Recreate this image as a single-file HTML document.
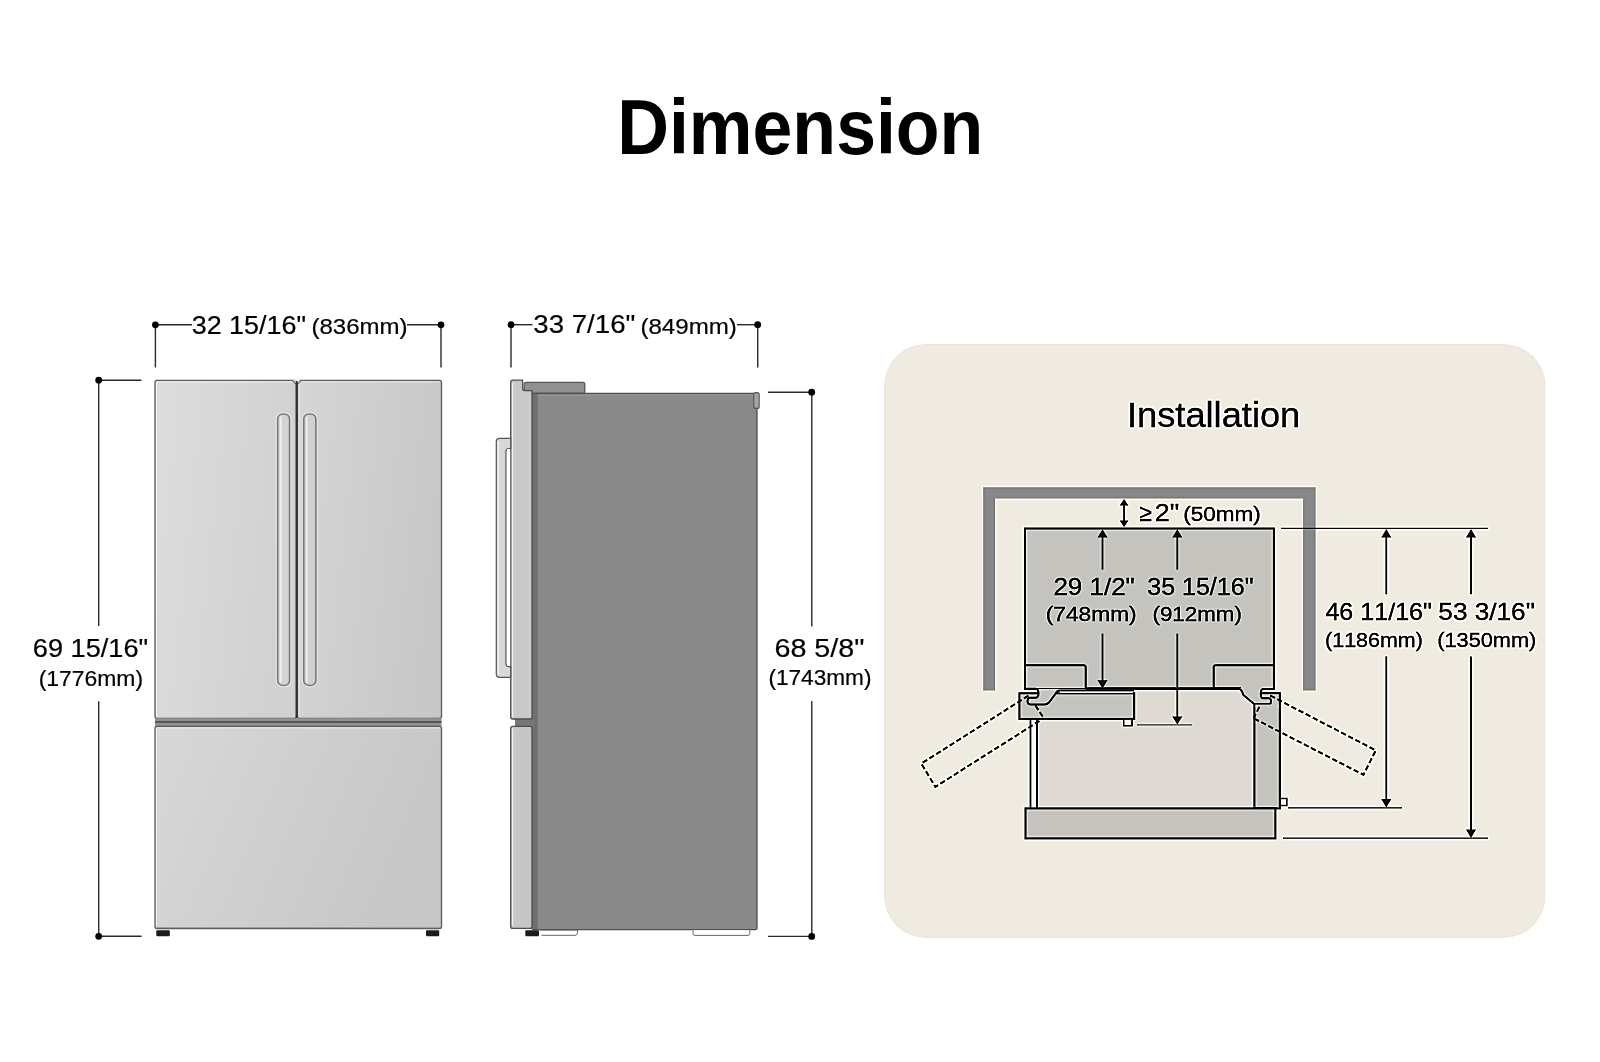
<!DOCTYPE html>
<html><head><meta charset="utf-8"><title>Dimension</title>
<style>
html,body{margin:0;padding:0;background:#ffffff;width:1600px;height:1062px;overflow:hidden;}
svg{display:block;}
text{font-family:"Liberation Sans",sans-serif;font-kerning:none;}
</style></head><body>
<svg width="1600" height="1062" viewBox="0 0 1600 1062">
<defs>
  <linearGradient id="gDoorL" x1="0" y1="0" x2="1" y2="0.25">
    <stop offset="0" stop-color="#dddddd"/><stop offset="1" stop-color="#d1d1d1"/>
  </linearGradient>
  <linearGradient id="gDoorR" x1="0" y1="0" x2="1" y2="0.25">
    <stop offset="0" stop-color="#d5d5d5"/><stop offset="1" stop-color="#c8c8c8"/>
  </linearGradient>
  <linearGradient id="gDrawer" x1="0" y1="0" x2="1" y2="0.3">
    <stop offset="0" stop-color="#d8d8d8"/><stop offset="0.5" stop-color="#cfcfcf"/><stop offset="1" stop-color="#c7c7c7"/>
  </linearGradient>

<filter id="sharp" x="870" y="330" width="690" height="620" filterUnits="userSpaceOnUse" color-interpolation-filters="sRGB">
  <feGaussianBlur in="SourceGraphic" stdDeviation="1.0" result="b"/>
  <feComposite in="SourceGraphic" in2="b" operator="arithmetic" k1="0" k2="1.8" k3="-0.8" k4="0"/>
</filter><filter id="flat" x="0" y="0" width="1600" height="1062" filterUnits="userSpaceOnUse"><feOffset dx="0" dy="0"/></filter></defs>
<rect width="1600" height="1062" fill="#ffffff"/>
<g filter="url(#flat)">
<rect x="0" y="0" width="876" height="1062" fill="#ffffff"/>


<!-- ============ FRONT VIEW FRIDGE ============ -->
<g id="front">
  <!-- upper doors -->
  <rect x="155" y="380.3" width="141.5" height="338" rx="2" fill="url(#gDoorL)" stroke="#5a5a5a" stroke-width="1.3"/>
  <rect x="297.5" y="380.3" width="144" height="338" rx="2" fill="url(#gDoorR)" stroke="#5a5a5a" stroke-width="1.3"/>
  <line x1="156.5" y1="382.2" x2="156.5" y2="717" stroke="#f4f4f4" stroke-width="1"/>
  <line x1="157" y1="381.9" x2="293" y2="381.9" stroke="#f2f2f2" stroke-width="1"/>
  <line x1="300" y1="381.9" x2="440" y2="381.9" stroke="#ebebeb" stroke-width="1"/>
  <line x1="299" y1="382.2" x2="299" y2="717" stroke="#eeeeee" stroke-width="1"/>
  <path d="M292.5,380.2 L296.7,384.5 L301,380.2 Z" fill="#ffffff"/>
  <path d="M292.5,380.6 L296.7,384.8 L301,380.6" fill="none" stroke="#555" stroke-width="1.1"/>
  <!-- split -->
  <rect x="295.6" y="381" width="2.2" height="337" fill="#303030"/>
  <!-- handles -->
  <rect x="277.6" y="414" width="12" height="271.5" rx="5" fill="none" stroke="#f2f2f2" stroke-width="3.6"/>
  <rect x="303.7" y="414" width="12.2" height="271.5" rx="5" fill="none" stroke="#eeeeee" stroke-width="3.6"/>
  <rect x="277.6" y="414" width="12" height="271.5" rx="5" fill="#d3d3d3" stroke="#777777" stroke-width="1.6"/>
  <rect x="279.8" y="416.5" width="2" height="266" fill="#eeeeee"/>
  <rect x="303.7" y="414" width="12.2" height="271.5" rx="5" fill="#d0d0d0" stroke="#777777" stroke-width="1.6"/>
  <rect x="305.8" y="416.5" width="2" height="266" fill="#eaeaea"/>
  <!-- separator band -->
  <rect x="155" y="718.2" width="286.5" height="8" fill="#929292"/>
  <rect x="155" y="721.2" width="286.5" height="1.5" fill="#444444"/>
  <!-- drawer -->
  <rect x="155" y="726.3" width="286.5" height="202.3" rx="2" fill="url(#gDrawer)" stroke="#5a5a5a" stroke-width="1.3"/>
  <line x1="156.5" y1="728" x2="156.5" y2="926" stroke="#f2f2f2" stroke-width="1"/>
  <line x1="157" y1="727.9" x2="440" y2="727.9" stroke="#ececec" stroke-width="1"/>
  <line x1="157" y1="927.6" x2="440" y2="927.6" stroke="#9a9a9a" stroke-width="1"/>
  <!-- feet -->
  <rect x="156.3" y="930.2" width="13.5" height="6" rx="1" fill="#1c1c1c"/>
  <rect x="426" y="930.2" width="13.2" height="6" rx="1" fill="#1c1c1c"/>
</g>

<!-- front dims -->
<g stroke="#2a2a2a" stroke-width="1.4" fill="none">
  <line x1="155.4" y1="324.8" x2="192" y2="324.8"/>
  <line x1="407" y1="324.8" x2="441" y2="324.8"/>
  <line x1="155.4" y1="324.8" x2="155.4" y2="367.4"/>
  <line x1="441" y1="324.8" x2="441" y2="367.4"/>
  <line x1="98.7" y1="380.2" x2="141.4" y2="380.2"/>
  <line x1="98.7" y1="936.3" x2="141.6" y2="936.3"/>
  <line x1="98.7" y1="380.2" x2="98.7" y2="626.1"/>
  <line x1="98.7" y1="701.2" x2="98.7" y2="936.3"/>
</g>
<g fill="#000">
  <circle cx="155.4" cy="324.8" r="3.4"/><circle cx="441" cy="324.8" r="3.4"/>
  <circle cx="98.7" cy="380.2" r="3.4"/><circle cx="98.7" cy="936.3" r="3.4"/>
</g>

<!-- ============ SIDE VIEW FRIDGE ============ -->
<g id="side">
  <!-- top cap -->
  <rect x="524.2" y="382.3" width="60.6" height="11" rx="2" fill="#919191" stroke="#555" stroke-width="1.3"/>
  <!-- body -->
  <rect x="532" y="393.5" width="225" height="536.2" rx="1.5" fill="#8a8a8a" stroke="#4e4e4e" stroke-width="1.3"/>
  <rect x="532.6" y="394.2" width="5" height="535" fill="#707070"/>
  <line x1="538" y1="395" x2="756" y2="395" stroke="#9c9c9c" stroke-width="1"/>
  <!-- hinge cap right -->
  <rect x="753.8" y="392.6" width="5.4" height="15.8" rx="2" fill="#a5a5a5" stroke="#555" stroke-width="1.1"/>
  <!-- gap strip between doors -->
  <rect x="515" y="718.5" width="19" height="8.5" fill="#767676"/>
  <!-- upper door panel -->
  <path d="M512.7,719 Q510.7,719 510.7,717 V382 Q510.7,380.2 512.5,380.2 H522.6 V388.5 Q522.6,390.6 524.8,390.6 H532 V717 Q532,719 530,719 Z" fill="#c9c9c9" stroke="#4e4e4e" stroke-width="1.3"/>
  <line x1="512.6" y1="383" x2="512.6" y2="717" stroke="#f2f2f2" stroke-width="1.2"/>
  <line x1="530" y1="392" x2="530" y2="717" stroke="#d6d6d6" stroke-width="1"/>
  <!-- lower door panel -->
  <rect x="510.7" y="726.4" width="21.3" height="202" rx="2" fill="#c6c6c6" stroke="#4e4e4e" stroke-width="1.3"/>
  <line x1="512.6" y1="728.5" x2="512.6" y2="926" stroke="#f2f2f2" stroke-width="1.2"/>
  <!-- handle -->
  <path d="M510.7,438.4 H499.5 Q496.3,438.4 496.3,441.6 V674 Q496.3,677.3 499.5,677.3 H510.7 V666.6 H508.8 Q505.9,666.6 505.9,663.6 V451.4 Q505.9,448.5 508.8,448.5 H510.7 Z" fill="#d8d8d8" stroke="#555" stroke-width="1.2"/>
  <line x1="498.3" y1="441" x2="498.3" y2="675" stroke="#f5f5f5" stroke-width="1.2"/>
  <rect x="507" y="449.3" width="3.2" height="216.5" fill="#ffffff"/>
  <!-- feet & rails -->
  <rect x="525.3" y="930.3" width="13.7" height="6" rx="1" fill="#1c1c1c"/>
  <path d="M540.3,930.2 H577.5 Q578,935.3 575,935.3 H541.5" fill="#ffffff" stroke="#666" stroke-width="1"/>
  <path d="M693,930.2 V933.5 Q693,935.4 695,935.4 H748 Q749.8,935.4 749.8,933.5 V930.2" fill="#ffffff" stroke="#666" stroke-width="1"/>
</g>

<!-- side dims -->
<g stroke="#2a2a2a" stroke-width="1.4" fill="none">
  <line x1="511" y1="324.7" x2="532.5" y2="324.7"/>
  <line x1="737" y1="324.7" x2="757.7" y2="324.7"/>
  <line x1="511" y1="324.7" x2="511" y2="367.4"/>
  <line x1="757.7" y1="324.7" x2="757.7" y2="367.4"/>
  <line x1="768" y1="392.2" x2="811.7" y2="392.2"/>
  <line x1="768" y1="936.4" x2="811.7" y2="936.4"/>
  <line x1="811.8" y1="392.2" x2="811.8" y2="626.4"/>
  <line x1="811.8" y1="700.9" x2="811.8" y2="936.4"/>
</g>
<g fill="#000">
  <circle cx="511" cy="324.7" r="3.4"/><circle cx="757.7" cy="324.7" r="3.4"/>
  <circle cx="811.7" cy="392.2" r="3.4"/><circle cx="811.7" cy="936.4" r="3.4"/>
</g>


<text transform="translate(617.21 153.60) scale(0.9196 1)" font-size="77.91" font-weight="bold" fill="#000">Dimension</text>
<text transform="translate(191.67 333.55) scale(1.0361 1)" font-size="25.99" fill="#000" stroke="#000" stroke-width="0.2">32 15/16"</text>
<text transform="translate(311.41 333.58) scale(1.0508 1)" font-size="22.88" fill="#000" stroke="#000" stroke-width="0.2">(836mm)</text>
<text transform="translate(533.35 333.35) scale(1.0635 1)" font-size="25.99" fill="#000" stroke="#000" stroke-width="0.2">33 7/16"</text>
<text transform="translate(640.40 333.58) scale(1.0541 1)" font-size="22.88" fill="#000" stroke="#000" stroke-width="0.2">(849mm)</text>
<text transform="translate(32.87 657.15) scale(1.0567 1)" font-size="25.71" fill="#000" stroke="#000" stroke-width="0.2">69 15/16"</text>
<text transform="translate(38.68 686.08) scale(1.0143 1)" font-size="22.60" fill="#000" stroke="#000" stroke-width="0.2">(1776mm)</text>
<text transform="translate(774.44 656.95) scale(1.1055 1)" font-size="25.99" fill="#000" stroke="#000" stroke-width="0.2">68 5/8"</text>
<text transform="translate(768.40 685.38) scale(1.0076 1)" font-size="22.46" fill="#000" stroke="#000" stroke-width="0.2">(1743mm)</text>
</g>
<g filter="url(#sharp)">
<rect x="876" y="336" width="677" height="610" fill="#ffffff"/>
<!-- ============ INSTALLATION PANEL ============ -->
<rect x="884" y="344" width="661.5" height="594" rx="42" fill="#efebe1"/>
<!-- frame -->
<path d="M983.2,690.4 V487.2 H1315.6 V690.4 H1303.1 V498.5 H995.1 V690.4 Z" fill="#888888"/>

<!-- inner light region -->
<rect x="1036.8" y="689" width="217.6" height="119.4" fill="#dedad3"/>
<!-- cabinet -->
<rect x="1024.9" y="528.5" width="249" height="160.5" fill="#c4c3be" stroke="#000" stroke-width="2"/>
<!-- tabs -->
<path d="M1024.9,665.3 H1083.5 Q1085.7,665.3 1085.7,667.5 V689" fill="none" stroke="#000" stroke-width="2"/>
<path d="M1273.9,665.3 H1216 Q1213.7,665.3 1213.7,667.5 V689" fill="none" stroke="#000" stroke-width="2"/>

<!-- left door -->
<rect x="1019.4" y="693.3" width="114.8" height="25.6" fill="#c4c3be" stroke="#000" stroke-width="2"/>
<!-- left hinge cover (grey region under hook) -->
<path d="M1024.9,688.7 H1035.3 Q1038.5,689 1038.5,693.2 Q1038.5,697.8 1035.3,697.8 H1030 Q1027.5,697.8 1027.5,701 Q1027.5,704.6 1031,704.6 H1044.7 Q1047,704.6 1049,702.5 L1055.3,694 Q1057,690.6 1060,690.6 H1134 V689 Z" fill="#c4c3be" stroke="none"/>
<path d="M1024.9,688.7 H1035.3 Q1038.5,689 1038.5,693.2 Q1038.5,697.8 1035.3,697.8 H1030 Q1027.5,697.8 1027.5,701 Q1027.5,704.6 1031,704.6 H1044.7 Q1047,704.6 1049,702.5 L1055.3,694 Q1057,690.6 1060,690.6 H1134" fill="none" stroke="#000" stroke-width="2"/>
<line x1="1030" y1="691.2" x2="1037" y2="691.2" stroke="#f5f5f5" stroke-width="1.5"/>
<line x1="1060" y1="692.3" x2="1133" y2="692.3" stroke="#ffffff" stroke-width="1.2"/>
<line x1="1085.7" y1="688.5" x2="1241" y2="688.5" stroke="#000" stroke-width="2.4"/>
<!-- left door knob -->
<rect x="1123.7" y="719" width="8.3" height="6.7" fill="#efebe1" stroke="#000" stroke-width="1.5"/>

<!-- double lines left -->
<line x1="1030.6" y1="719" x2="1030.6" y2="808.5" stroke="#000" stroke-width="2"/>
<line x1="1036.8" y1="719" x2="1036.8" y2="808.5" stroke="#000" stroke-width="2"/>
<rect x="1031.6" y="720" width="4.2" height="88" fill="#f3f0ea"/>

<!-- right door -->
<rect x="1254.4" y="693.2" width="25.4" height="115.2" fill="#c4c3be" stroke="#000" stroke-width="2"/>
<!-- right hinge -->
<path d="M1273.9,689 H1262.9 Q1260.8,689.5 1260.8,694 Q1260.8,698.3 1262.9,698.3 H1269 Q1271,698.5 1271,701.3 Q1271,704.2 1268.8,704.2 H1254.4 L1243.4,694.9 Q1241.5,688.6 1238,688.6 H1213.7 V688 H1273.9 Z" fill="#c4c3be" stroke="none"/>
<path d="M1273.9,689 H1262.9 Q1260.8,689.5 1260.8,694 Q1260.8,698.3 1262.9,698.3 H1269 Q1271,698.5 1271,701.3 Q1271,704.2 1268.8,704.2 H1254.4 L1243.4,694.9 Q1241.5,688.6 1238,688.6 H1213.7" fill="none" stroke="#000" stroke-width="2"/>
<rect x="1255.5" y="704.5" width="23.3" height="3" fill="#c4c3be"/>
<!-- right knob -->
<rect x="1280.1" y="798.5" width="6.7" height="7" fill="#efebe1" stroke="#000" stroke-width="1.5"/>

<!-- bottom drawer -->
<rect x="1025.5" y="808.4" width="249.9" height="30" fill="#c4c3be" stroke="#000" stroke-width="2"/>

<!-- dashed doors -->
<g fill="none" stroke="#111" stroke-width="2" stroke-dasharray="5.3 2.7">
  <path d="M1028.5,695.6 L921.3,763.6 L935.4,786.8 L1043.4,718.4"/>
  <path d="M1035.4,705.4 L1043,717"/>
  <path d="M1270.2,695.5 L1375.8,750.4 L1363.4,774.8 L1253.6,718.3"/>
  <path d="M1259.3,706.9 L1253.6,718.3"/>
</g>

<!-- ref lines -->
<g stroke="#2a2a2a" stroke-width="1.3">
  <line x1="1281" y1="528.4" x2="1488" y2="528.4"/>
  <line x1="1288" y1="807.8" x2="1402" y2="807.8"/>
  <line x1="1283" y1="838.2" x2="1488" y2="838.2"/>
  <line x1="1137" y1="724.8" x2="1192" y2="724.8" stroke="#555"/>
</g>
<!-- arrows -->
<g stroke="#1a1a1a" stroke-width="1.8">
  <line x1="1386.3" y1="534" x2="1386.3" y2="594.3"/>
  <line x1="1386.3" y1="656.4" x2="1386.3" y2="802"/>
  <line x1="1471" y1="534" x2="1471" y2="594.3"/>
  <line x1="1471" y1="656.4" x2="1471" y2="832"/>
  <line x1="1102.5" y1="534" x2="1102.5" y2="569.6"/>
  <line x1="1102.5" y1="633.6" x2="1102.5" y2="683"/>
  <line x1="1177.3" y1="534" x2="1177.3" y2="569.6"/>
  <line x1="1177.3" y1="633.6" x2="1177.3" y2="719"/>
  <line x1="1124.1" y1="504" x2="1124.1" y2="522"/>
</g>
<g fill="#111">
  <path d="M1386.3,529 l-5,8.5 h10 z"/>
  <path d="M1386.3,807.5 l-5,-8.5 h10 z"/>
  <path d="M1471,529 l-5,8.5 h10 z"/>
  <path d="M1471,838 l-5,-8.5 h10 z"/>
  <path d="M1102.5,529.3 l-5,8.2 h10 z"/>
  <path d="M1102.5,688.5 l-5,-8.2 h10 z"/>
  <path d="M1177.3,529.3 l-5,8.2 h10 z"/>
  <path d="M1177.3,724.6 l-5,-8.2 h10 z"/>
  <path d="M1124.1,499 l-4.3,6.6 h8.6 z"/>
  <path d="M1124.1,527.2 l-4.3,-6.6 h8.6 z"/>
</g>

<text transform="translate(1126.95 427.40) scale(1.0269 1)" font-size="35.32" fill="#0c0c0c" stroke="#0c0c0c" stroke-width="0.3">Installation</text>
<text transform="translate(1139.18 520.60) scale(0.9517 1)" font-size="23.79" fill="#000" stroke="#000" stroke-width="0.3">≥</text>
<text transform="translate(1154.75 520.60) scale(1.1240 1)" font-size="23.92" fill="#000" stroke="#000" stroke-width="0.3">2"</text>
<text transform="translate(1183.20 520.80) scale(1.0850 1)" font-size="20.76" fill="#000" stroke="#000" stroke-width="0.3">(50mm)</text>
<text transform="translate(1053.39 594.77) scale(1.0885 1)" font-size="23.87" fill="#000" stroke="#000" stroke-width="0.3">29 1/2"</text>
<text transform="translate(1147.30 594.87) scale(1.0481 1)" font-size="23.87" fill="#000" stroke="#000" stroke-width="0.3">35 15/16"</text>
<text transform="translate(1045.79 621.05) scale(1.0983 1)" font-size="20.69" fill="#000" stroke="#000" stroke-width="0.3">(748mm)</text>
<text transform="translate(1152.51 621.40) scale(1.0833 1)" font-size="20.62" fill="#000" stroke="#000" stroke-width="0.3">(912mm)</text>
<text transform="translate(1325.42 620.26) scale(1.0305 1)" font-size="24.36" fill="#000" stroke="#000" stroke-width="0.3">46 11/16"</text>
<text transform="translate(1438.35 620.06) scale(1.0874 1)" font-size="24.08" fill="#000" stroke="#000" stroke-width="0.3">53 3/16"</text>
<text transform="translate(1325.07 646.60) scale(1.0487 1)" font-size="20.48" fill="#000" stroke="#000" stroke-width="0.3">(1186mm)</text>
<text transform="translate(1437.25 646.60) scale(1.0546 1)" font-size="20.62" fill="#000" stroke="#000" stroke-width="0.3">(1350mm)</text>
</g>
</svg>
</body></html>
